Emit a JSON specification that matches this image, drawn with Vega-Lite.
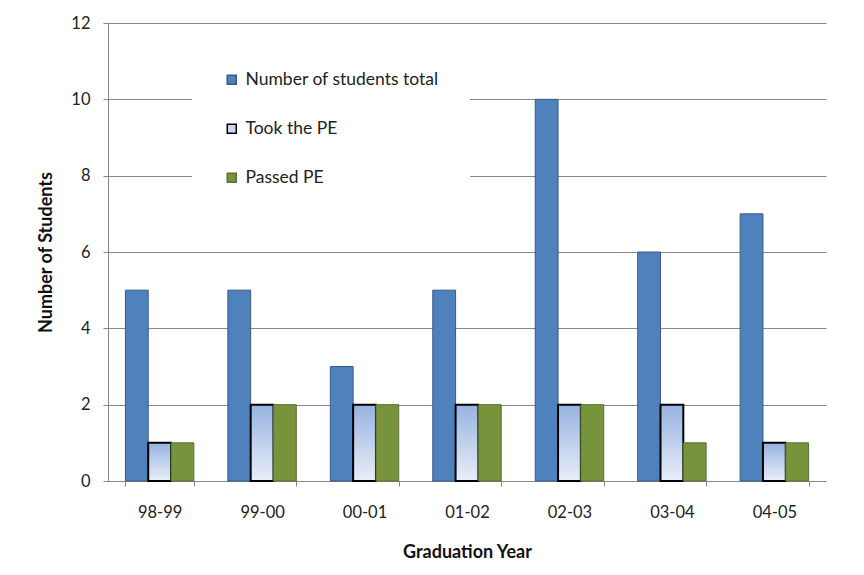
{
  "$schema": "https://vega.github.io/schema/vega-lite/v6.json",
  "width": 718,
  "height": 458,
  "autosize": {"type": "none"},
  "padding": {"left": 108, "top": 23, "right": 38, "bottom": 94},
  "background": "white",
  "config": {
    "font": "Lato",
    "view": {"stroke": null},
    "axis": {
      "labelFont": "Lato",
      "labelFontSize": 16.5,
      "labelColor": "#222222",
      "titleFont": "Lato",
      "titleFontSize": 18,
      "titleFontWeight": "bold",
      "titleColor": "#111111",
      "domainColor": "#878787",
      "tickColor": "#878787",
      "gridColor": "#878787",
      "domainWidth": 1,
      "tickWidth": 1,
      "gridWidth": 1,
      "tickSize": 5
    }
  },
  "data": {
    "values": [
      {"year": "98-99", "series": "Number of students total", "count": 5},
      {"year": "98-99", "series": "Took the PE", "count": 1},
      {"year": "98-99", "series": "Passed PE", "count": 1},
      {"year": "99-00", "series": "Number of students total", "count": 5},
      {"year": "99-00", "series": "Took the PE", "count": 2},
      {"year": "99-00", "series": "Passed PE", "count": 2},
      {"year": "00-01", "series": "Number of students total", "count": 3},
      {"year": "00-01", "series": "Took the PE", "count": 2},
      {"year": "00-01", "series": "Passed PE", "count": 2},
      {"year": "01-02", "series": "Number of students total", "count": 5},
      {"year": "01-02", "series": "Took the PE", "count": 2},
      {"year": "01-02", "series": "Passed PE", "count": 2},
      {"year": "02-03", "series": "Number of students total", "count": 10},
      {"year": "02-03", "series": "Took the PE", "count": 2},
      {"year": "02-03", "series": "Passed PE", "count": 2},
      {"year": "03-04", "series": "Number of students total", "count": 6},
      {"year": "03-04", "series": "Took the PE", "count": 2},
      {"year": "03-04", "series": "Passed PE", "count": 1},
      {"year": "04-05", "series": "Number of students total", "count": 7},
      {"year": "04-05", "series": "Took the PE", "count": 1},
      {"year": "04-05", "series": "Passed PE", "count": 1}
    ]
  },
  "mark": {"type": "bar"},
  "encoding": {
    "x": {
      "field": "year",
      "type": "nominal",
      "sort": null,
      "scale": {"paddingInner": 0.332, "paddingOuter": 0.17},
      "axis": {
        "title": "Graduation Year",
        "labelAngle": 0,
        "tickBand": "extent",
        "grid": false,
        "labelPadding": 18,
        "titlePadding": 23
      }
    },
    "xOffset": {
      "field": "series",
      "type": "nominal",
      "scale": {"domain": ["Number of students total", "Took the PE", "Passed PE"], "paddingInner": 0, "paddingOuter": 0}
    },
    "y": {
      "field": "count",
      "type": "quantitative",
      "scale": {"domain": [0, 12], "nice": false},
      "axis": {
        "title": "Number of Students",
        "values": [0, 2, 4, 6, 8, 10, 12],
        "grid": true,
        "labelPadding": 13,
        "titlePadding": 15
      }
    },
    "color": {
      "condition": {
        "test": "datum.series === 'Took the PE'",
        "value": {
          "gradient": "linear",
          "x1": 0, "y1": 0, "x2": 0, "y2": 1,
          "stops": [
            {"offset": 0, "color": "#97b3e1"},
            {"offset": 1, "color": "#e9eef8"}
          ]
        }
      },
      "field": "series",
      "type": "nominal",
      "scale": {
        "domain": ["Number of students total", "Took the PE", "Passed PE"],
        "range": ["#4f81bd", "#c9d7ef", "#77933c"]
      },
      "legend": {
        "title": null,
        "orient": "none",
        "legendX": 84,
        "legendY": 17,
        "fillColor": "white",
        "padding": 31,
        "symbolType": "square",
        "symbolSize": 81,
        "symbolStrokeWidth": 1.5,
        "labelFont": "Lato",
        "labelFontSize": 17.5,
        "labelLimit": 400,
        "labelColor": "#222222",
        "labelOffset": 5,
        "rowPadding": 30
      }
    },
    "stroke": {
      "field": "series",
      "type": "nominal",
      "scale": {
        "domain": ["Number of students total", "Took the PE", "Passed PE"],
        "range": ["#3a5a86", "#000000", "#5b6f33"]
      }
    },
    "strokeWidth": {
      "condition": {"test": "datum.series === 'Took the PE'", "value": 2},
      "value": 1
    }
  }
}
